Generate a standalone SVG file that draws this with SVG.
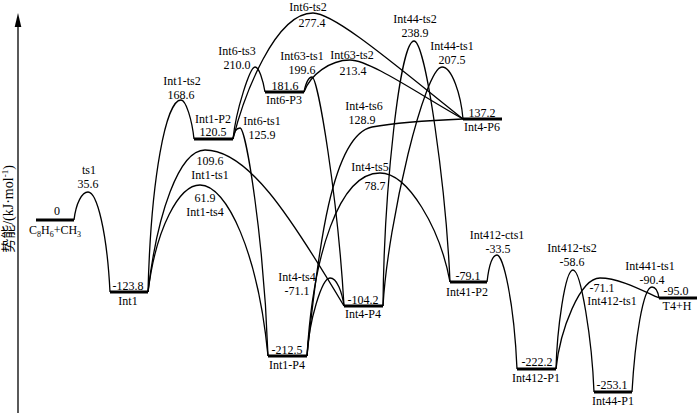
<svg xmlns="http://www.w3.org/2000/svg" width="700" height="413" viewBox="0 0 700 413">
<style>
.lv{stroke:#000;stroke-width:3;fill:none}
.c{fill:none;stroke:#000;stroke-width:1.3}
text{font-family:"Liberation Serif","Times New Roman",serif;font-size:12px;text-anchor:middle;fill:#000}
.ax{font-family:"Liberation Serif","Noto Sans CJK SC",serif;font-size:14px}
</style>
<rect width="700" height="413" fill="#fff"/>
<g id="axis">
<line x1="18" y1="413" x2="18" y2="26" stroke="#000" stroke-width="1.3"/>
<path d="M18,13 L14.7,27 L21.3,27 Z" fill="#000"/>
<text class="ax" transform="translate(13,209) rotate(-90)">势能/(kJ·mol<tspan font-size="9" dy="-5">-1</tspan><tspan dy="5">)</tspan></text>
</g>
<g id="connectors">
<path class="c" d="M74,220 C76,203 82,192 88,192 C97,192 107,232 110,292"/>
<path class="c" d="M148,292 C151,177 166,100 181,100 C186,100 192,120 194,139"/>
<path class="c" d="M148,292 C157,214 179,150 205,150 C247,150 288,212 344,306"/>
<path class="c" d="M148,292 C156,228 179,185 200,185 C227,185 258,253 268,356"/>
<path class="c" d="M233,139 C234,131 237,128 240,128 C246,128 264,240 268,356"/>
<path class="c" d="M233,139 C236,110 250,67 255,67 C259,67 263,80 265,92"/>
<path class="c" d="M233,139 C244,95 275,13 313,13 C335,13 400,69 463,119"/>
<path class="c" d="M304,92 C306,82 309,77 312,77 C318,77 338,200 344,306"/>
<path class="c" d="M304,92 C310,75 330,60 350,60 C370,60 420,95 463,119"/>
<path class="c" d="M307,356 C309,320 322,278 330,278 C337,278 342,292 344,306"/>
<path class="c" d="M307,356 C313,255 339,173 380,173 C408,173 440,228 450,282"/>
<path class="c" d="M307,356 C318,250 332,135 372,127 C400,122 440,120 463,119"/>
<path class="c" d="M383,306 C384,190 400,41 414,41 C426,41 446,190 450,282"/>
<path class="c" d="M383,306 C388,220 425,67 442,67 C452,67 461,95 463,119"/>
<path class="c" d="M487,282 C489,265 492,255 497,255 C503,255 514,300 517,369"/>
<path class="c" d="M556,369 C557,330 565,270 573,270 C581,270 592,340 594,392"/>
<path class="c" d="M556,369 C560,330 580,278 600,278 C620,278 645,292 659,298"/>
<path class="c" d="M632,392 C635,340 643,287 652,287 C656,287 658,292 659,298"/>
</g>
<g id="R">
<line class="lv" x1="36" y1="220" x2="74" y2="220"/>
<text x="57" y="215">0</text>
<text x="55" y="234">C<tspan font-size="8" dy="3">8</tspan><tspan dy="-3">H</tspan><tspan font-size="8" dy="3">6</tspan><tspan dy="-3">+CH</tspan><tspan font-size="8" dy="3">3</tspan></text>
</g>
<g id="ts1"><text x="89" y="174">ts1</text><text x="88" y="188">35.6</text></g>
<g id="Int1">
<line class="lv" x1="110" y1="292" x2="148" y2="292"/>
<text x="128" y="290">-123.8</text><text x="128" y="305">Int1</text>
</g>
<g id="Int1-ts2"><text x="182" y="85">Int1-ts2</text><text x="181" y="99">168.6</text></g>
<g id="Int1-P2">
<line class="lv" x1="194" y1="139" x2="233" y2="139"/>
<text x="213" y="123">Int1-P2</text><text x="213" y="136">120.5</text>
</g>
<g id="Int6-ts1"><text x="262" y="125">Int6-ts1</text><text x="262" y="139">125.9</text></g>
<g id="Int1-ts1"><text x="210" y="165">109.6</text><text x="210" y="179">Int1-ts1</text></g>
<g id="Int1-ts4"><text x="205" y="202">61.9</text><text x="205" y="216">Int1-ts4</text></g>
<g id="Int6-ts3"><text x="237" y="55">Int6-ts3</text><text x="237" y="69">210.0</text></g>
<g id="Int6-ts2"><text x="308" y="11">Int6-ts2</text><text x="312" y="27">277.4</text></g>
<g id="Int6-P3">
<line class="lv" x1="265" y1="92" x2="304" y2="92"/>
<text x="285" y="90">181.6</text><text x="284" y="104">Int6-P3</text>
</g>
<g id="Int63-ts1"><text x="302" y="60">Int63-ts1</text><text x="302" y="74">199.6</text></g>
<g id="Int63-ts2"><text x="352" y="59">Int63-ts2</text><text x="353" y="75">213.4</text></g>
<g id="Int44-ts2"><text x="415" y="23">Int44-ts2</text><text x="415" y="37">238.9</text></g>
<g id="Int44-ts1"><text x="452" y="50">Int44-ts1</text><text x="452" y="64">207.5</text></g>
<g id="Int4-P6">
<line class="lv" x1="463" y1="119" x2="502" y2="119"/>
<text x="482" y="117">137.2</text><text x="482" y="131">Int4-P6</text>
</g>
<g id="Int4-ts6"><text x="364" y="110">Int4-ts6</text><text x="362" y="124">128.9</text></g>
<g id="Int4-ts5"><text x="370" y="171">Int4-ts5</text><text x="375" y="190">78.7</text></g>
<g id="Int4-ts4"><text x="297" y="281">Int4-ts4</text><text x="297" y="295">-71.1</text></g>
<g id="Int4-P4">
<line class="lv" x1="344" y1="306" x2="383" y2="306"/>
<text x="363" y="304">-104.2</text><text x="363" y="318">Int4-P4</text>
</g>
<g id="Int1-P4">
<line class="lv" x1="268" y1="356" x2="307" y2="356"/>
<text x="287" y="354">-212.5</text><text x="287" y="369">Int1-P4</text>
</g>
<g id="Int41-P2">
<line class="lv" x1="450" y1="282" x2="487" y2="282"/>
<text x="468" y="280">-79.1</text><text x="467" y="296">Int41-P2</text>
</g>
<g id="Int412-cts1"><text x="497" y="239">Int412-cts1</text><text x="498" y="253">-33.5</text></g>
<g id="Int412-ts2"><text x="572" y="252">Int412-ts2</text><text x="572" y="266">-58.6</text></g>
<g id="Int441-ts1"><text x="650" y="270">Int441-ts1</text><text x="652" y="284">-90.4</text></g>
<g id="Int412-ts1"><text x="602" y="292">-71.1</text><text x="612" y="305">Int412-ts1</text></g>
<g id="T4H">
<line class="lv" x1="659" y1="298" x2="697" y2="298"/>
<text x="676" y="295">-95.0</text><text x="677" y="310">T4+H</text>
</g>
<g id="Int412-P1">
<line class="lv" x1="517" y1="369" x2="556" y2="369"/>
<text x="537" y="366">-222.2</text><text x="536" y="382">Int412-P1</text>
</g>
<g id="Int44-P1">
<line class="lv" x1="594" y1="392" x2="632" y2="392"/>
<text x="612" y="389">-253.1</text><text x="613" y="405">Int44-P1</text>
</g>
</svg>
